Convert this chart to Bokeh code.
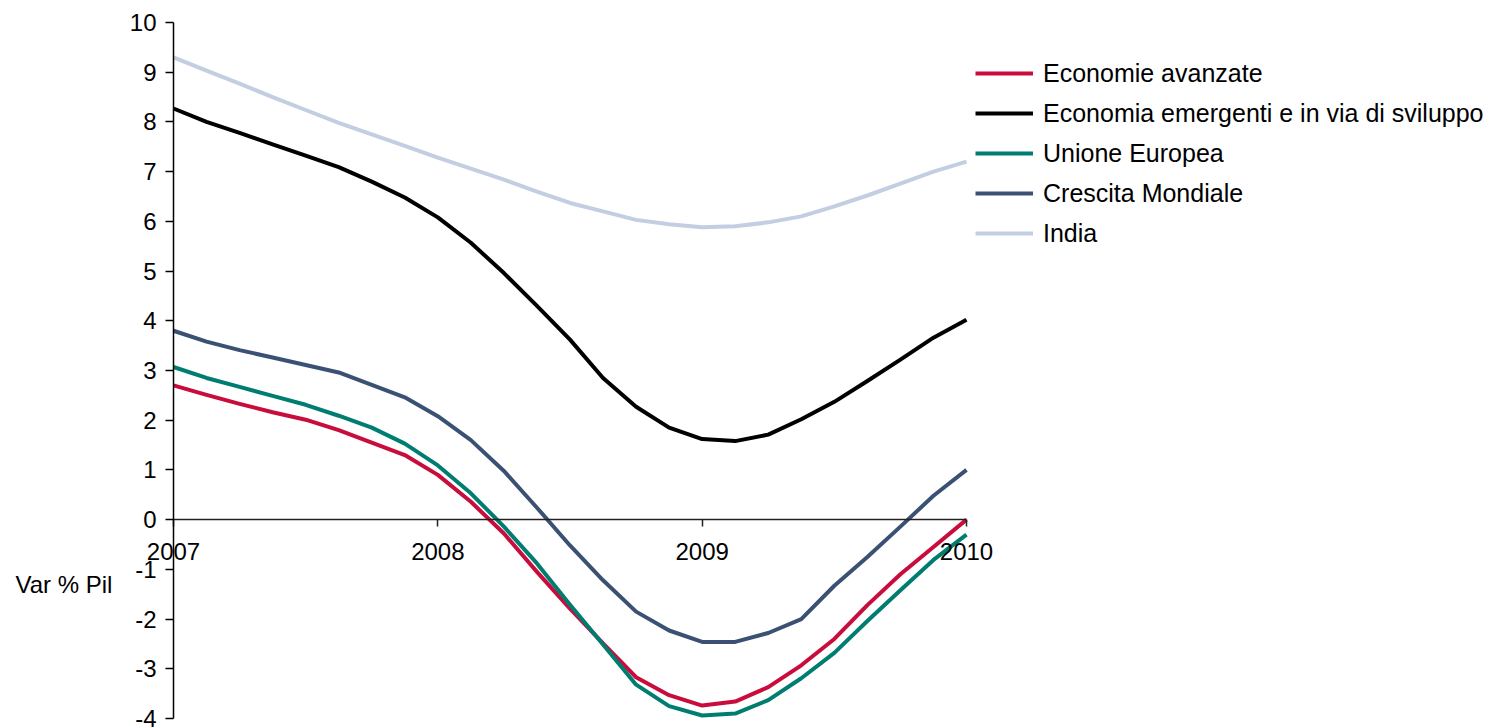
from bokeh.plotting import figure
from bokeh.models import Range1d, FixedTicker, Legend, LegendItem, Label, CustomJSTickFormatter
from bokeh.embed import file_html
from bokeh.resources import INLINE

# ---- data ----
periodi = [2007.0, 2007.125, 2007.25, 2007.375, 2007.5, 2007.625, 2007.75, 2007.875,
           2008.0, 2008.125, 2008.25, 2008.375, 2008.5, 2008.625, 2008.75, 2008.875,
           2009.0, 2009.125, 2009.25, 2009.375, 2009.5, 2009.625, 2009.75, 2009.875,
           2010.0]

economie_avanzate = [2.70, 2.51, 2.33, 2.16, 2.01, 1.80, 1.55, 1.30,
                     0.90, 0.36, -0.28, -1.05, -1.79, -2.49, -3.17, -3.53,
                     -3.74, -3.66, -3.37, -2.93, -2.40, -1.72, -1.10, -0.55,
                     0.00]
economie_emergenti = [8.27, 8.00, 7.78, 7.55, 7.32, 7.09, 6.80, 6.48,
                      6.08, 5.57, 4.96, 4.30, 3.62, 2.85, 2.27, 1.85,
                      1.62, 1.58, 1.71, 2.02, 2.37, 2.79, 3.22, 3.66,
                      4.02]
unione_europea = [3.07, 2.85, 2.67, 2.49, 2.31, 2.09, 1.85, 1.53,
                  1.09, 0.53, -0.14, -0.88, -1.71, -2.51, -3.32, -3.75,
                  -3.94, -3.90, -3.63, -3.19, -2.68, -2.04, -1.42, -0.81,
                  -0.30]
crescita_mondiale = [3.80, 3.58, 3.41, 3.26, 3.11, 2.96, 2.71, 2.46,
                     2.08, 1.60, 0.98, 0.24, -0.52, -1.22, -1.85, -2.23,
                     -2.46, -2.46, -2.28, -2.00, -1.33, -0.75, -0.14, 0.48,
                     1.00]
india = [9.30, 9.03, 8.77, 8.50, 8.24, 7.98, 7.75, 7.52,
         7.28, 7.06, 6.84, 6.60, 6.37, 6.20, 6.03, 5.94,
         5.88, 5.90, 5.98, 6.10, 6.30, 6.52, 6.76, 7.00,
         7.20]

serie = [
    ("Economie avanzate", economie_avanzate, "#C80D3D"),
    ("Economia emergenti e in via di sviluppo", economie_emergenti, "#000000"),
    ("Unione Europea", unione_europea, "#007D71"),
    ("Crescita Mondiale", crescita_mondiale, "#3A5174"),
    ("India", india, "#C3CEE2"),
]

anni = [2007, 2008, 2009, 2010]
y_ticks = list(range(-4, 11))
y_titolo = "Var % Pil"

FONT = "Liberation Sans"
FS = "24px"

# canvas / frame geometry (the frame fills the canvas, axes are fixed inside it)
W, H = 1488, 727
AX_X, TOP_Y, BOT_Y = 173, 22, 718          # pixel positions of 2007, 10 and -4
px_per_year = (966 - AX_X) / (anni[-1] - anni[0])
px_per_unit = (BOT_Y - TOP_Y) / (y_ticks[-1] - y_ticks[0])
x_start = anni[0] - AX_X / px_per_year
x_end = anni[0] + (W - AX_X) / px_per_year
y_top = y_ticks[-1] + TOP_Y / px_per_unit
y_bot = y_ticks[0] - (H - BOT_Y) / px_per_unit

p = figure(width=W, height=H, output_backend="svg", toolbar_location=None,
           x_range=Range1d(x_start, x_end), y_range=Range1d(y_bot, y_top),
           min_border=0)
p.outline_line_color = None
p.background_fill_color = "white"
p.border_fill_color = "white"
p.xgrid.visible = False
p.ygrid.visible = False

fmt = CustomJSTickFormatter(code="return String(tick);")

# x axis crossing at zero
xa = p.xaxis[0]
xa.fixed_location = 0
xa.ticker = FixedTicker(ticks=anni)
xa.bounds = (anni[0], anni[-1])
xa.formatter = fmt
xa.minor_tick_line_color = None
xa.major_tick_in = 0
xa.major_tick_out = 7
xa.axis_line_width = 1.5
xa.axis_line_color = "#222222"
xa.major_tick_line_color = "#222222"
xa.major_tick_line_width = 1.5
xa.major_label_text_font = FONT
xa.major_label_text_font_size = FS
xa.major_label_text_color = "black"
xa.major_label_standoff = 16

# y axis at 2007
ya = p.yaxis[0]
ya.fixed_location = anni[0]
ya.ticker = FixedTicker(ticks=y_ticks)
ya.bounds = (y_ticks[0], y_ticks[-1])
ya.formatter = fmt
ya.minor_tick_line_color = None
ya.major_tick_in = 0
ya.major_tick_out = 8
ya.axis_line_width = 1.5
ya.major_tick_line_width = 1.5
ya.major_label_text_font = FONT
ya.major_label_text_font_size = FS
ya.major_label_text_color = "black"
ya.major_label_standoff = 9

renderers = []
for nome, valori, colore in serie:
    r = p.line(periodi, valori, line_color=colore, line_width=4, line_join="round")
    renderers.append((nome, r))
items = [LegendItem(label=n, renderers=[r]) for n, r in renderers]

legend = Legend(items=items, location=(975, 479), orientation="vertical",
                label_text_font=FONT, label_text_font_size="25px", label_text_color="black",
                glyph_width=58, glyph_height=30, label_height=30, label_standoff=10,
                spacing=10, padding=0, margin=0, border_line_color=None,
                background_fill_alpha=0)
p.add_layout(legend, "center")

p.add_layout(Label(x=anni[0], y=-1.3, x_offset=-158, text=y_titolo,
                   text_font=FONT, text_font_size=FS, text_color="black",
                   text_align="left", text_baseline="middle"))

open("out.html", "w").write(file_html(p, INLINE))
